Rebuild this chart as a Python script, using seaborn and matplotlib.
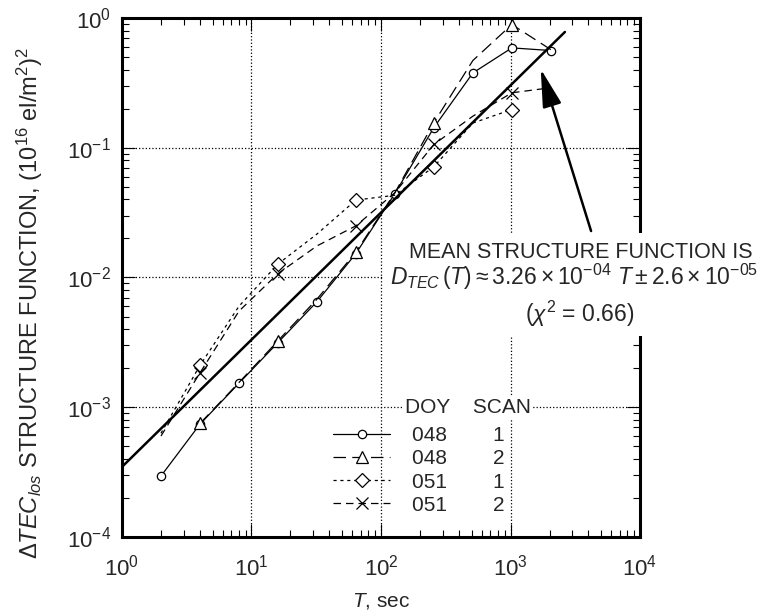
import numpy as np
import pandas as pd
import matplotlib
matplotlib.use("Agg")
import matplotlib.pyplot as plt
from matplotlib.lines import Line2D
from matplotlib.patches import Rectangle
import seaborn as sns

sns.set_style("ticks")
plt.rcParams['font.family'] = ['Liberation Sans', 'DejaVu Sans']
plt.rcParams['mathtext.fontset'] = 'custom'
plt.rcParams['mathtext.rm'] = 'Liberation Sans'
plt.rcParams['mathtext.it'] = 'Liberation Sans:italic'
plt.rcParams['mathtext.bf'] = 'Liberation Sans:bold'
plt.rcParams['mathtext.fallback'] = 'stixsans'

# lag times (s) and structure function values
T_048_1 = [2, 4, 8, 16, 32, 64, 128, 256, 512, 1024, 2048]
D_048_1 = [2.95e-4, 7.4e-4, 1.53e-3, 3.15e-3, 6.5e-3, 0.0153, 0.0443, 0.143, 0.377, 0.588, 0.561]

T_048_2 = [4, 8, 16, 32, 64, 128, 256, 512, 1024, 2048]
D_048_2 = [7.5e-4, 1.55e-3, 3.25e-3, 6.8e-3, 0.0157, 0.045, 0.156, 0.47, 0.89, 0.57]

T_051_1 = [2, 4, 8, 16, 32, 64, 128, 256, 512, 1024]
D_051_1 = [6.3e-4, 2.1e-3, 6.0e-3, 0.0127, 0.0216, 0.0395, 0.043, 0.0714, 0.155, 0.197]

T_051_2 = [2, 4, 8, 16, 32, 64, 128, 256, 512, 1024, 2048]
D_051_2 = [6.0e-4, 1.84e-3, 5.5e-3, 0.0107, 0.0175, 0.025, 0.045, 0.106, 0.175, 0.265, 0.29]

# mean structure function line
T_mean = [1, 2630]
D_mean = [3.47e-4, 0.78]

doy = ['048', '048', '051', '051']
scan = ['1', '2', '1', '2']

styles = [
    dict(marker='o', ms=6, ls='-', every=1),
    dict(marker='^', ms=8, ls=(0, (10, 5)), every=2),
    dict(marker='D', ms=7, ls=(0, (2.5, 3)), every=slice(1, None, 2)),
    dict(marker='x', ms=8, ls=(0, (6, 4)), every=slice(1, None, 2)),
]
series = [(T_048_1, D_048_1), (T_048_2, D_048_2), (T_051_1, D_051_1), (T_051_2, D_051_2)]

fig = plt.figure(figsize=(7.83, 6.13), dpi=100)
ax = fig.add_axes([0.1558, 0.124, 0.6616, 0.8467])

handles = []
for (t, d), st in zip(series, styles):
    df = pd.DataFrame({'T': t, 'D': d})
    sns.lineplot(data=df, x='T', y='D', ax=ax, color='black', lw=0.9,
                 linestyle=st['ls'], marker=st['marker'], markersize=st['ms'],
                 markerfacecolor='white', markeredgecolor='black', markeredgewidth=0.9,
                 markevery=st['every'], errorbar=None)
    handles.append(Line2D([], [], color='black', lw=0.9, linestyle=st['ls'],
                          marker=st['marker'], markersize=st['ms'],
                          markerfacecolor='white', markeredgecolor='black',
                          markeredgewidth=0.9))

sns.lineplot(x=T_mean, y=D_mean, ax=ax, color='black', lw=1.8, errorbar=None)

ax.set_xscale('log')
ax.set_yscale('log')
ax.set_xlim(1, 1e4)
ax.set_ylim(1e-4, 1)
ax.grid(True, which='major', ls=':', color='black', lw=0.9)
ax.tick_params(which='both', direction='in', top=True, right=True, color='black',
               labelsize=16)
ax.tick_params(which='major', length=9.5, width=0.8)
ax.tick_params(which='minor', length=5, width=0.8)
ax.tick_params(axis='x', pad=13)
ax.tick_params(axis='y', pad=8)
for s in ax.spines.values():
    s.set_linewidth(2.2)
    s.set_color('black')

ax.set_xlabel(r'$T$, sec', fontsize=15)
ax.set_ylabel(r'$\Delta\mathit{TEC}_{\mathit{los}}$ STRUCTURE FUNCTION, (10$^{16}$ el/m$^{2}$)$^{2}$',
              fontsize=17)
ax.xaxis.set_label_coords(0.5, -0.104)
ax.yaxis.set_label_coords(-0.148, 0.45)

# legend
leg = ax.legend(handles, [f'{a}        {b}' for a, b in zip(doy, scan)],
                loc='upper left', bbox_to_anchor=(0.4073, 0.2134), frameon=False,
                fontsize=15, handlelength=2.74, handletextpad=1.04,
                labelspacing=0.2, borderpad=0, borderaxespad=0)
ax.text(0.5463, 0.2385, 'DOY    SCAN', transform=ax.transAxes, fontsize=15,
        va='baseline', ha='left',
        bbox=dict(fc='white', ec='none', pad=1))

# white box behind the annotation text
ax.add_patch(Rectangle((0.506, 0.387), 0.78, 0.199, transform=ax.transAxes,
                       fc='white', ec='none', zorder=2.7, clip_on=False))
ax.text(0.886, 0.5367, 'MEAN STRUCTURE FUNCTION IS', transform=ax.transAxes,
        fontsize=15.5, ha='center', va='baseline', zorder=3)
ax.text(0.8726, 0.4853,
        r'$D_{TEC}\,(T) \approx 3.26 \times 10^{-04}\ T \pm 2.6 \times 10^{-05}$',
        transform=ax.transAxes, fontsize=16.5, ha='center', va='baseline', zorder=3)
ax.text(0.884, 0.4145, r'($\chi^{2}$ = 0.66)', transform=ax.transAxes,
        fontsize=16.5, ha='center', va='baseline', zorder=3)

ax.annotate('', xy=(1711, 0.404), xytext=(4188, 0.0228),
            arrowprops=dict(arrowstyle='-|>,head_length=1.17,head_width=0.295',
                            mutation_scale=20, lw=1.8, color='black', fc='black',
                            shrinkA=0, shrinkB=0),
            zorder=4)

fig.savefig('out.png', dpi=100)
